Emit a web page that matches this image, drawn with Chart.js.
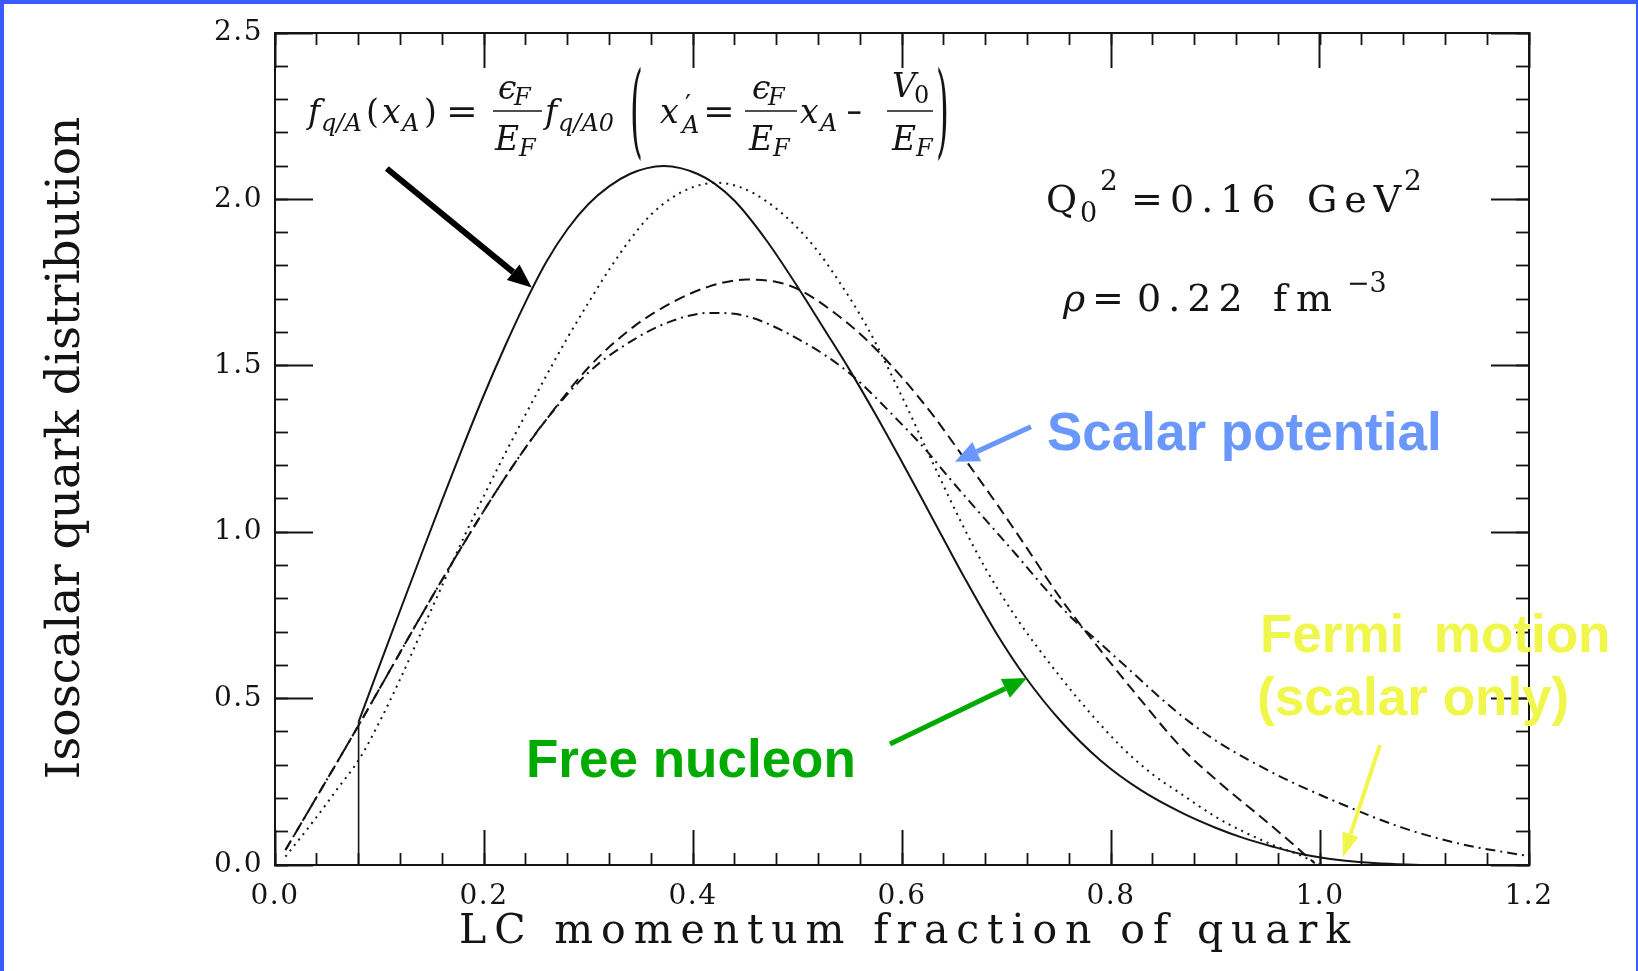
<!DOCTYPE html>
<html>
<head>
<meta charset="utf-8">
<title>Isoscalar quark distribution</title>
<script src="https://cdn.jsdelivr.net/npm/chart.js@4.4.0/dist/chart.umd.min.js"></script>
<style>
  html, body { margin: 0; padding: 0; background: #fff; }
  canvas { display: block; }
</style>
</head>
<body>
<canvas id="quark-chart" width="1638" height="971"></canvas>
<script>
// x = LC momentum fraction of quark, y = isoscalar quark distribution

// free nucleon (solid), cut off at x = 0.08
const nucleonX = [0.080, 0.100, 0.120, 0.140, 0.160, 0.180, 0.200, 0.220, 0.240, 0.260, 0.280, 0.300, 0.320, 0.340, 0.356, 0.372, 0.388, 0.404, 0.420, 0.440, 0.470, 0.502, 0.525, 0.550, 0.575, 0.598, 0.620, 0.640, 0.660, 0.690, 0.718, 0.752, 0.790, 0.829, 0.867, 0.900, 0.925, 0.955, 0.982, 1.010, 1.040, 1.070, 1.100];
const nucleonY = [0.43, 0.599, 0.767, 0.933, 1.097, 1.258, 1.413, 1.558, 1.693, 1.814, 1.911, 1.986, 2.040, 2.077, 2.094, 2.100, 2.094, 2.077, 2.049, 1.995, 1.878, 1.728, 1.613, 1.487, 1.352, 1.222, 1.095, 0.978, 0.862, 0.698, 0.565, 0.432, 0.314, 0.224, 0.158, 0.112, 0.083, 0.055, 0.033, 0.018, 0.008, 0.003, 0.0];
const cutX = [0.080, 0.080];
const cutY = [0.0, 0.43];

// rescaled distribution (dotted)
const rescaledX = [0.010, 0.040, 0.060, 0.081, 0.100, 0.120, 0.140, 0.160, 0.180, 0.200, 0.220, 0.240, 0.257, 0.280, 0.300, 0.320, 0.340, 0.360, 0.380, 0.400, 0.423, 0.445, 0.470, 0.495, 0.518, 0.540, 0.566, 0.598, 0.630, 0.655, 0.681, 0.710, 0.733, 0.771, 0.810, 0.840, 0.867, 0.900, 0.925, 0.955, 0.982, 1.000];
const rescaledY = [0.025, 0.145, 0.23, 0.32, 0.43, 0.56, 0.70, 0.84, 0.98, 1.11, 1.235, 1.355, 1.455, 1.585, 1.69, 1.79, 1.88, 1.955, 2.005, 2.037, 2.050, 2.037, 1.995, 1.93, 1.85, 1.752, 1.62, 1.42, 1.205, 1.04, 0.885, 0.74, 0.64, 0.49, 0.355, 0.272, 0.214, 0.145, 0.103, 0.06, 0.028, 0.0];

// scalar potential (dashed)
const scalarX = [0.010, 0.040, 0.081, 0.110, 0.140, 0.168, 0.200, 0.230, 0.260, 0.300, 0.343, 0.380, 0.415, 0.451, 0.480, 0.502, 0.535, 0.566, 0.600, 0.630, 0.660, 0.694, 0.720, 0.752, 0.790, 0.829, 0.867, 0.905, 0.944, 0.974, 0.995];
const scalarY = [0.045, 0.205, 0.425, 0.585, 0.75, 0.90, 1.065, 1.21, 1.34, 1.495, 1.617, 1.69, 1.738, 1.759, 1.752, 1.728, 1.66, 1.578, 1.465, 1.35, 1.22, 1.07, 0.95, 0.80, 0.645, 0.494, 0.354, 0.244, 0.143, 0.063, 0.005];

// Fermi motion, scalar only (dash-dot)
const fermiX = [0.010, 0.040, 0.081, 0.110, 0.140, 0.168, 0.200, 0.230, 0.260, 0.300, 0.343, 0.380, 0.416, 0.450, 0.502, 0.550, 0.598, 0.622, 0.646, 0.675, 0.710, 0.733, 0.760, 0.790, 0.820, 0.848, 0.875, 0.905, 0.935, 0.963, 1.020, 1.078, 1.135, 1.197];
const fermiY = [0.045, 0.205, 0.425, 0.585, 0.75, 0.90, 1.065, 1.21, 1.34, 1.48, 1.578, 1.635, 1.659, 1.65, 1.578, 1.477, 1.33, 1.25, 1.16, 1.055, 0.93, 0.845, 0.75, 0.665, 0.58, 0.50, 0.43, 0.364, 0.31, 0.264, 0.184, 0.113, 0.063, 0.028];

// axis ticks
const xTicks = [0, 0.2, 0.4, 0.6, 0.8, 1.0, 1.2];
const xTickLabels = ["0.0", "0.2", "0.4", "0.6", "0.8", "1.0", "1.2"];
const yTicks = [0, 0.5, 1.0, 1.5, 2.0, 2.5];
const yTickLabels = ["0.0", "0.5", "1.0", "1.5", "2.0", "2.5"];

const INK = "#141414";
const SERIF = '"DejaVu Serif", serif';
const SANS = '"Liberation Sans", Arial, sans-serif';
const FRAME_BLUE = "#3a5bff";
const BLUE = "#6a97fb";
const GREEN = "#00aa00";
const YELLOW = "#f1f64a";

function points(xs, ys) {
    return xs.map((x, i) => ({ x: x, y: ys[i] }));
}

function curve(label, xs, ys, dash, width) {
    return {
        label: label,
        data: points(xs, ys),
        borderColor: INK,
        borderWidth: width,
        borderDash: dash,
        pointRadius: 0,
        fill: false,
        cubicInterpolationMode: "monotone",
        xAxisID: "x",
        yAxisID: "y",
    };
}

function tickGrid(len, width) {
    return {
        display: true,
        drawOnChartArea: false,
        drawTicks: true,
        tickLength: -len, // negative length -> ticks point into the plot
        tickWidth: width,
        tickColor: INK,
    };
}

// fixes the box size and drops the label padding chart.js asks for
function fixBox(size) {
    return function (scale) {
        if (scale.isHorizontal()) scale.height = size;
        else scale.width = size;
        scale.paddingTop = 0;
        scale.paddingBottom = 0;
        scale.paddingLeft = 0;
        scale.paddingRight = 0;
    };
}

function frameAxis(position, max, step, len, width, weight, showBorder) {
    return {
        type: "linear",
        position: position,
        min: 0,
        max: max,
        weight: weight,
        ticks: { display: false, stepSize: step, maxTicksLimit: 100, autoSkip: false },
        grid: tickGrid(len, width),
        border: { display: showBorder, color: INK, width: 2 },
        afterFit: fixBox(0),
    };
}

// draws a run of text at a canvas position
function put(ctx, text, x, y, size, opts = {}) {
    ctx.save();
    ctx.font = `${opts.italic ? "italic " : ""}${opts.bold ? "bold " : ""}${size}px ${opts.family || SERIF}`;
    ctx.fillStyle = opts.color || INK;
    ctx.letterSpacing = (opts.spacing || 0) + "px";
    ctx.textAlign = opts.align || "left";
    ctx.textBaseline = "alphabetic";
    ctx.translate(x, y);
    ctx.scale(opts.sx || 1, opts.sy || 1);
    ctx.fillText(text, 0, 0);
    ctx.restore();
}

function bar(ctx, x0, x1, y) {
    ctx.save();
    ctx.strokeStyle = INK;
    ctx.lineWidth = 1.6;
    ctx.beginPath();
    ctx.moveTo(x0, y);
    ctx.lineTo(x1, y);
    ctx.stroke();
    ctx.restore();
}

function arrow(ctx, x0, y0, x1, y1, color, width, headLen, headWidth) {
    const a = Math.atan2(y1 - y0, x1 - x0);
    const bx = x1 - headLen * Math.cos(a);
    const by = y1 - headLen * Math.sin(a);
    ctx.save();
    ctx.strokeStyle = color;
    ctx.fillStyle = color;
    ctx.lineWidth = width;
    ctx.beginPath();
    ctx.moveTo(x0, y0);
    ctx.lineTo(bx, by);
    ctx.stroke();
    ctx.beginPath();
    ctx.moveTo(x1, y1);
    ctx.lineTo(bx + (headWidth / 2) * Math.sin(a), by - (headWidth / 2) * Math.cos(a));
    ctx.lineTo(bx - (headWidth / 2) * Math.sin(a), by + (headWidth / 2) * Math.cos(a));
    ctx.closePath();
    ctx.fill();
    ctx.restore();
}

// f_{q/A}(x_A) = eps_F/E_F f_{q/A0}( x'_A = eps_F/E_F x_A - V_0/E_F )
function drawFormula(ctx) {
    const it = { italic: true };
    const main = 33;
    const sub = 24;
    put(ctx, "f", 308, 123, main, it);
    put(ctx, "q/A", 321, 131, sub, it);
    put(ctx, "(", 366, 123, main);
    put(ctx, "x", 382, 123, main, it);
    put(ctx, "A", 402, 131, sub, it);
    put(ctx, ")", 424, 123, main);
    put(ctx, "=", 446, 123, main, { sx: 1.15 });

    put(ctx, "\u03f5", 498, 99, main, it);
    put(ctx, "F", 514, 105, sub, it);
    bar(ctx, 493, 542, 111);
    put(ctx, "E", 495, 150, main, it);
    put(ctx, "F", 519, 156, sub, it);

    put(ctx, "f", 545, 123, main, it);
    put(ctx, "q/A0", 558, 131, sub, it);
    put(ctx, "(", 630, 145, main, { sy: 3.1 });

    put(ctx, "x", 660, 123, main, it);
    put(ctx, "\u2032", 685, 113, 26);
    put(ctx, "A", 682, 133, sub, it);
    put(ctx, "=", 703, 123, main, { sx: 1.15 });

    put(ctx, "\u03f5", 752, 99, main, it);
    put(ctx, "F", 768, 105, sub, it);
    bar(ctx, 745, 797, 111);
    put(ctx, "E", 749, 150, main, it);
    put(ctx, "F", 773, 156, sub, it);

    put(ctx, "x", 800, 123, main, it);
    put(ctx, "A", 820, 131, sub, it);
    put(ctx, "\u2212", 846, 123, main, { sx: 0.6 });

    put(ctx, "V", 892, 97, main, it);
    put(ctx, "0", 914, 103, sub);
    bar(ctx, 887, 933, 111);
    put(ctx, "E", 892, 150, main, it);
    put(ctx, "F", 916, 156, sub, it);
    put(ctx, ")", 936, 145, main, { sy: 3.1 });
}

function drawConditions(ctx) {
    const wide = { spacing: 7 };
    put(ctx, "Q", 1046, 212, 38);
    put(ctx, "0", 1080, 222, 27);
    put(ctx, "2", 1100, 190, 28);
    put(ctx, "=", 1131, 212, 38);
    put(ctx, "0.16", 1170, 212, 38, wide);
    put(ctx, "GeV", 1307, 212, 38, wide);
    put(ctx, "2", 1404, 190, 28);

    put(ctx, "\u03c1", 1063, 311, 38, { italic: true });
    put(ctx, "=", 1092, 311, 38);
    put(ctx, "0.22", 1137, 311, 38, wide);
    put(ctx, "fm", 1273, 311, 38, { spacing: 9 });
    put(ctx, "\u22123", 1347, 292, 27);
}

const decorations = {
    id: "decorations",
    beforeDraw(chart) {
        const { ctx, width, height } = chart;
        ctx.save();
        ctx.fillStyle = "#ffffff";
        ctx.fillRect(0, 0, width, height);
        ctx.fillStyle = FRAME_BLUE;
        ctx.fillRect(0, 0, 4, height);
        ctx.fillRect(0, 0, width, 4);
        ctx.fillRect(width - 2, 0, 2, height);
        ctx.restore();
        // slight tracking for the tick labels
        ctx.letterSpacing = "1.5px";
    },
    beforeDatasetsDraw(chart) {
        chart.ctx.letterSpacing = "0px";
    },
    afterDraw(chart) {
        const ctx = chart.ctx;
        const sx = chart.scales.x;
        const sy = chart.scales.y;
        const px = (v) => sx.getPixelForValue(v);
        const py = (v) => sy.getPixelForValue(v);

        // axis titles
        put(ctx, "LC momentum fraction of quark", 459, 943, 41, { spacing: 7.9 });
        ctx.save();
        ctx.translate(79, 448);
        ctx.rotate(-Math.PI / 2);
        put(ctx, "Isoscalar quark distribution", 0, 0, 47, { align: "center" });
        ctx.restore();

        drawFormula(ctx);
        drawConditions(ctx);

        // arrows, anchored in data units
        arrow(ctx, px(0.107), py(2.093), px(0.2457), py(1.7356), "#000000", 6, 24, 20);
        arrow(ctx, px(0.7234), py(1.317), px(0.6507), py(1.212), BLUE, 5, 24, 21);
        arrow(ctx, px(0.5885), py(0.3636), px(0.7196), py(0.5619), GREEN, 5, 24, 21);
        arrow(ctx, px(1.0574), py(0.3606), px(1.022), py(0.024), YELLOW, 4, 24, 17);

        const label = { family: SANS, bold: true };
        put(ctx, "Scalar potential", 1047, 450, 53, { ...label, color: BLUE });
        put(ctx, "Free nucleon", 526, 777, 53, { ...label, color: GREEN });
        put(ctx, "Fermi  motion", 1260, 652, 53, { ...label, color: YELLOW });
        put(ctx, "(scalar only)", 1257, 715, 53, { ...label, color: YELLOW });
    },
};

const tickFont = { family: "DejaVu Serif", size: 28 };

new Chart(document.getElementById("quark-chart"), {
    type: "line",
    data: {
        datasets: [
            curve("Free nucleon", nucleonX, nucleonY, [], 2),
            curve("Free nucleon cut", cutX, cutY, [], 1.6),
            curve("Rescaled", rescaledX, rescaledY, [2, 5], 2),
            curve("Scalar potential", scalarX, scalarY, [11, 6], 2),
            curve("Fermi motion (scalar only)", fermiX, fermiY, [10, 5, 2, 5], 2),
        ],
    },
    options: {
        responsive: false,
        devicePixelRatio: 1,
        animation: false,
        events: [],
        layout: { padding: { left: 0, right: 109, top: 33, bottom: 0 } },
        plugins: {
            legend: { display: false },
            tooltip: { enabled: false },
        },
        scales: {
            x: {
                type: "linear",
                position: "bottom",
                min: 0,
                max: 1.2,
                weight: 1,
                afterBuildTicks: (scale) => {
                    scale.ticks = xTicks.map((v) => ({ value: v }));
                },
                ticks: {
                    autoSkip: false,
                    maxRotation: 0,
                    padding: 50,
                    color: INK,
                    font: tickFont,
                    callback: (value, index) => xTickLabels[index],
                },
                grid: tickGrid(35, 2),
                border: { display: true, color: INK, width: 2 },
                afterFit: fixBox(106),
            },
            xMinor: frameAxis("bottom", 1.2, 0.04, 12, 1.8, 0, false),
            xTop: frameAxis("top", 1.2, 0.2, 35, 2, 1, true),
            xTopMinor: frameAxis("top", 1.2, 0.04, 12, 1.8, 0, false),
            y: {
                type: "linear",
                position: "left",
                min: 0,
                max: 2.5,
                weight: 1,
                afterBuildTicks: (scale) => {
                    scale.ticks = yTicks.map((v) => ({ value: v }));
                },
                ticks: {
                    autoSkip: false,
                    padding: 50,
                    color: INK,
                    font: tickFont,
                    callback: (value, index) => yTickLabels[index],
                },
                grid: tickGrid(38, 2),
                border: { display: true, color: INK, width: 2 },
                afterFit: fixBox(275),
            },
            yMinor: frameAxis("left", 2.5, 0.1, 13, 1.8, 0, false),
            yRight: frameAxis("right", 2.5, 0.5, 38, 2, 1, true),
            yRightMinor: frameAxis("right", 2.5, 0.1, 13, 1.8, 0, false),
        },
    },
    plugins: [decorations],
});
</script>
</body>
</html>
